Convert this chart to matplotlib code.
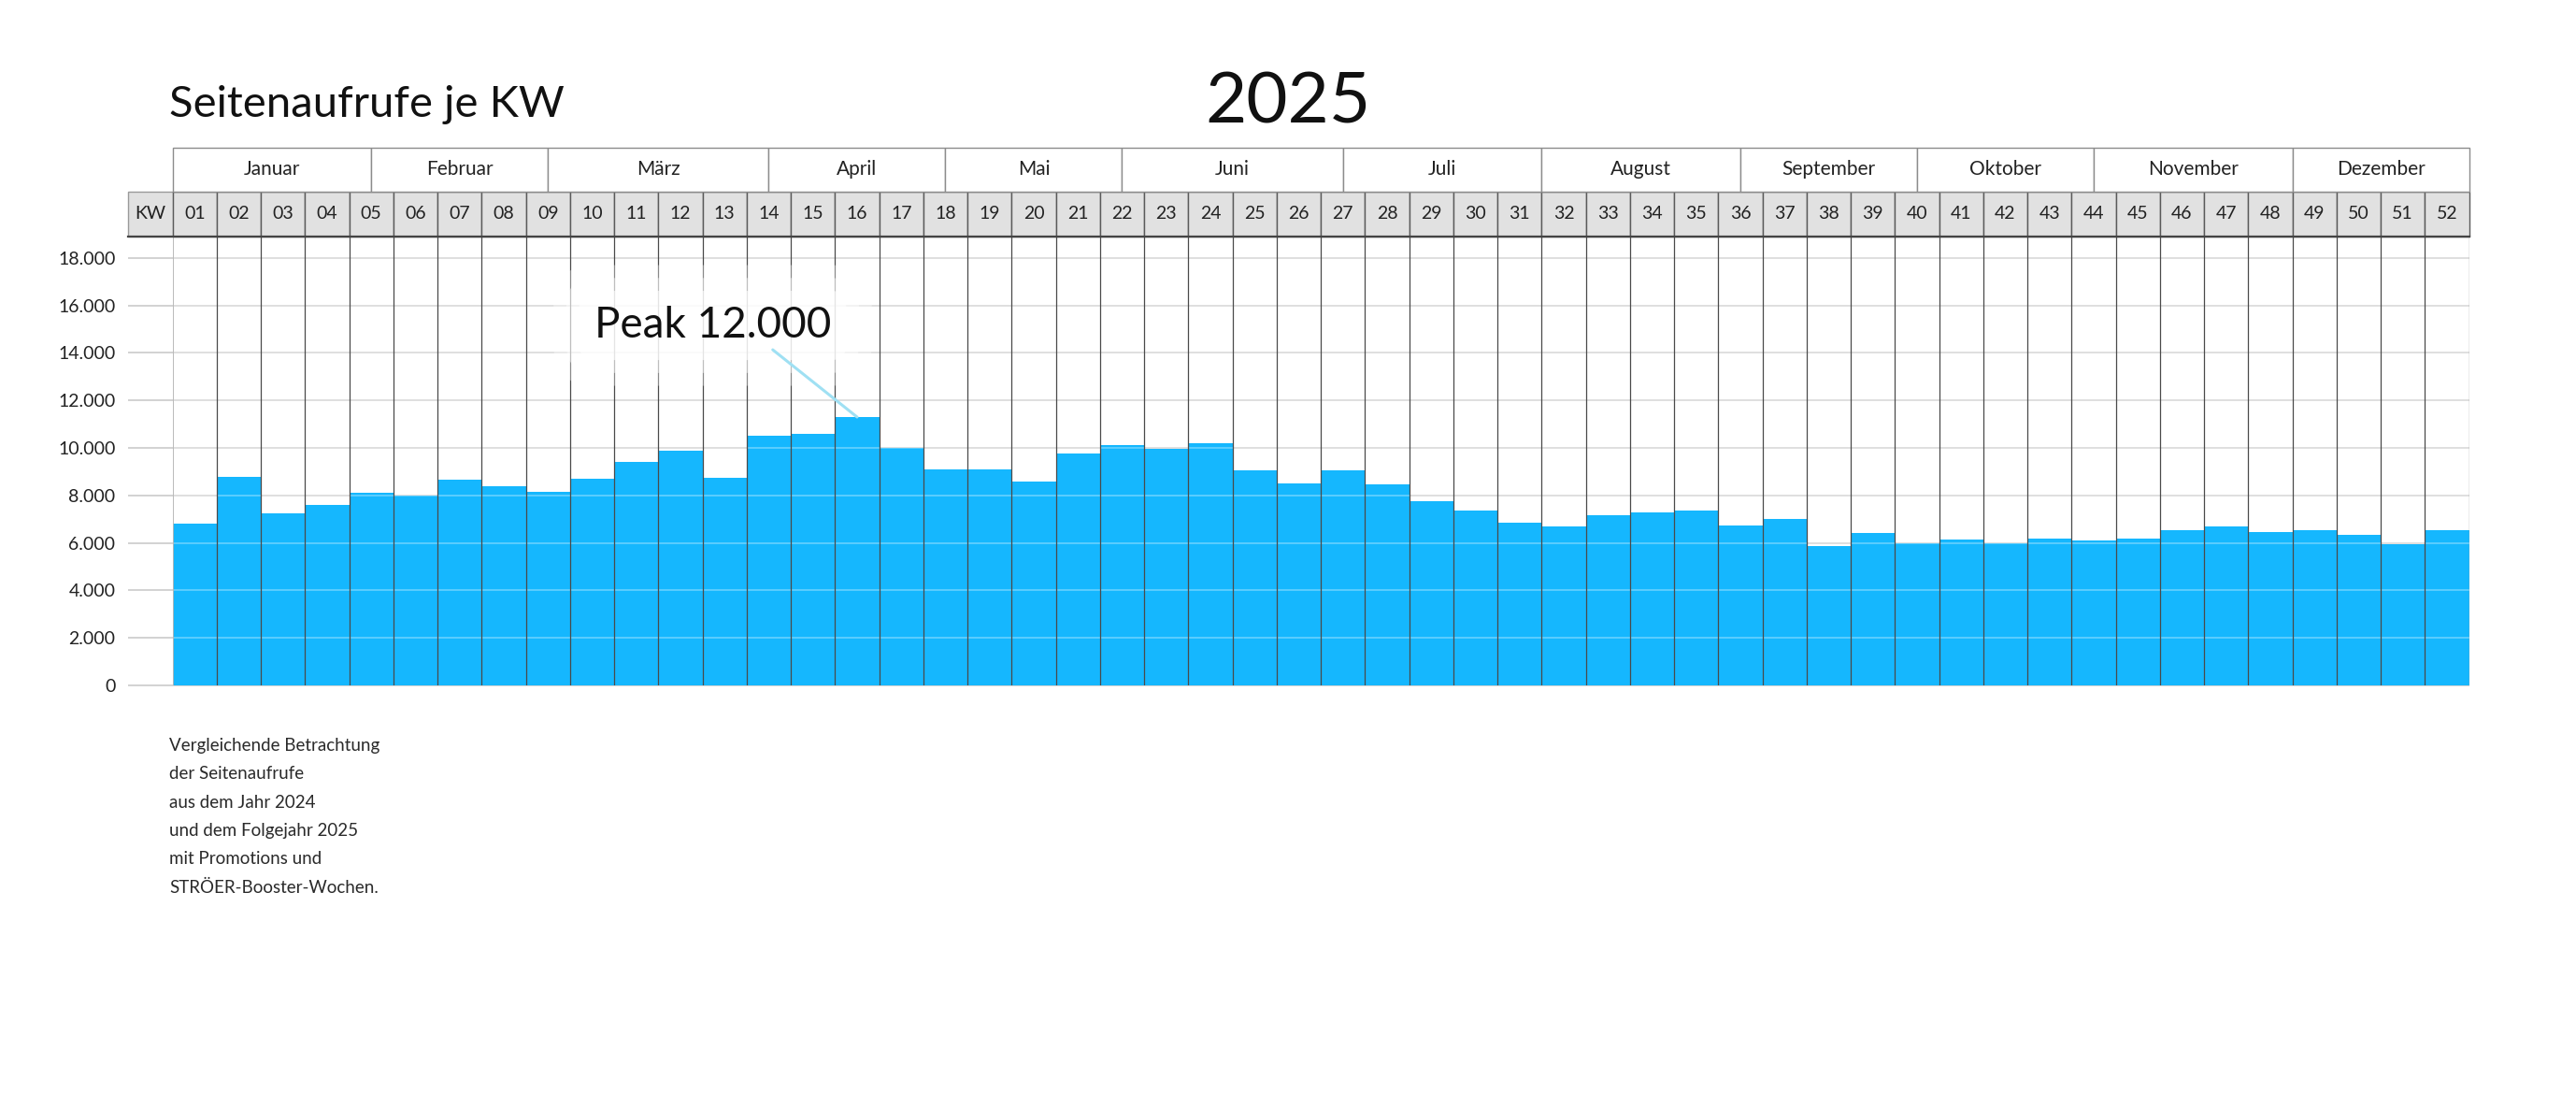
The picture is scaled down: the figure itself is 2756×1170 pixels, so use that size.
import matplotlib
matplotlib.use("Agg")
import matplotlib.pyplot as plt
from matplotlib.patches import Rectangle

plt.rcParams['font.family'] = ['Lato', 'DejaVu Sans']

# Seitenaufrufe je Kalenderwoche 2025
weeks = [f"{w:02d}" for w in range(1, 53)]
views = [6800, 8800, 7250, 7600, 8100, 8000, 8650, 8400, 8150, 8700,
         9400, 9900, 8750, 10500, 10600, 11300, 10000, 9100, 9100, 8600,
         9750, 10100, 9950, 10200, 9050, 8500, 9050, 8450, 7750, 7350,
         6850, 6700, 7150, 7300, 7350, 6750, 7000, 5850, 6400, 6000,
         6150, 6000, 6200, 6100, 6200, 6550, 6700, 6450, 6550, 6350,
         5950, 6550]
months = ["Januar", "Februar", "März", "April", "Mai", "Juni", "Juli",
          "August", "September", "Oktober", "November", "Dezember"]
# Monatsgrenzen in Wochen ab Jahresbeginn
month_edges = [0, 4.5, 8.5, 13.5, 17.5, 21.5, 26.5, 31, 35.5, 39.5, 43.5, 48, 52]
yticks = [0, 2000, 4000, 6000, 8000, 10000, 12000, 14000, 16000, 18000]
peak_week = 16
peak_label = "Peak 12.000"
notes = ["Vergleichende Betrachtung",
         "der Seitenaufrufe",
         "aus dem Jahr 2024",
         "und dem Folgejahr 2025",
         "mit Promotions und",
         "STRÖER-Booster-Wochen."]

BLUE = '#15b7fe'
W, H = 2756, 1170

fig = plt.figure(figsize=(W / 100, H / 100), dpi=100)
ax = fig.add_axes([184.6 / W, 437 / H, 2457 / W, 480 / H])

x = list(range(len(views)))
ax.bar(x, views, width=1.0, color=BLUE, linewidth=0, zorder=2)
ax.set_xlim(-0.5, len(views) - 0.5)
ax.set_ylim(0, 18900)
for s in ax.spines.values():
    s.set_visible(False)
ax.set_xticks([])
ax.set_yticks(yticks)
ax.set_yticklabels([f"{v:,}".replace(",", ".") for v in yticks])
ax.tick_params(axis='y', length=0, pad=44, labelsize=14, labelcolor='#222222')

# Gitternetz
ax.hlines(yticks, -1.5, len(views) - 0.5, colors='#d2d2d2', lw=1.4, zorder=1, clip_on=False)
ax.hlines(yticks[1:], -0.5, len(views) - 0.5, colors='white', alpha=0.3, lw=1.4, zorder=3)
ax.vlines([i + 0.5 for i in range(len(views) - 1)], 0, 18900, colors='#4a4a4a', lw=0.9, zorder=4)
ax.vlines([-0.5], 0, 18900, colors='#b5b5b5', lw=1.3, zorder=4)
ax.vlines([len(views) - 0.5], 0, 18900, colors='#9a9a9a', lw=1.0, zorder=4)

# Kopfzeilen: KW und Monate
tr = ax.get_xaxis_transform()
for i, lab in enumerate(["KW"] + weeks):
    xc = i - 1
    ec = '#9a9a9a' if i == 0 else '#5a5a5a'
    ax.add_patch(Rectangle((xc - 0.5, 1.0), 1, 0.1, transform=tr, fc='#e1e1e1',
                           ec=ec, lw=1.0, clip_on=False, zorder=5))
    ax.text(xc, 1.05, lab, transform=tr, ha='center', va='center',
            fontsize=14, color='#222222', zorder=6)
ax.plot([-1.5, len(views) - 0.5], [1.0, 1.0], transform=tr, color='#444444',
        lw=1.6, clip_on=False, zorder=6)

for name, a, b in zip(months, month_edges[:-1], month_edges[1:]):
    ax.add_patch(Rectangle((a - 0.5, 1.1), b - a, 0.098, transform=tr, fc='white',
                           ec='#8c8c8c', lw=1.0, clip_on=False, zorder=5))
    ax.text((a + b) / 2 - 0.5, 1.149, name, transform=tr, ha='center', va='center',
            fontsize=15, color='#222222', zorder=6)

# Peak-Beschriftung
px, py = 11.73, 15157
for pad, al in [(0.95, 0.35), (0.65, 0.45), (0.35, 0.6)]:
    ax.text(px, py, peak_label, ha='center', va='center', fontsize=33, color='none',
            bbox=dict(boxstyle=f'round,pad={pad}', fc='white', ec='none', alpha=al), zorder=7)
ax.annotate('', xy=(peak_week - 1, views[peak_week - 1]), xytext=(13.09, 14134),
            arrowprops=dict(arrowstyle='-', color='#9fe0f3', lw=2.2, shrinkA=0, shrinkB=0),
            zorder=8)
ax.text(px, py, peak_label, ha='center', va='center', fontsize=33, color='#111111', zorder=9)

# Titel
fig.text(181 / W, 1 - 125 / H, "Seitenaufrufe je KW", ha='left', va='baseline',
         fontsize=34, color='#111111')
fig.text(0.5, 1 - 132 / H, "2025", ha='center', va='baseline', fontsize=55, color='#111111')

for i, line in enumerate(notes):
    fig.text(181 / W, 1 - (802.7 + i * 30.4) / H, line, ha='left', va='baseline',
             fontsize=13.5, color='#2a2a2a')

fig.savefig("out.png", dpi=100, facecolor='white')
